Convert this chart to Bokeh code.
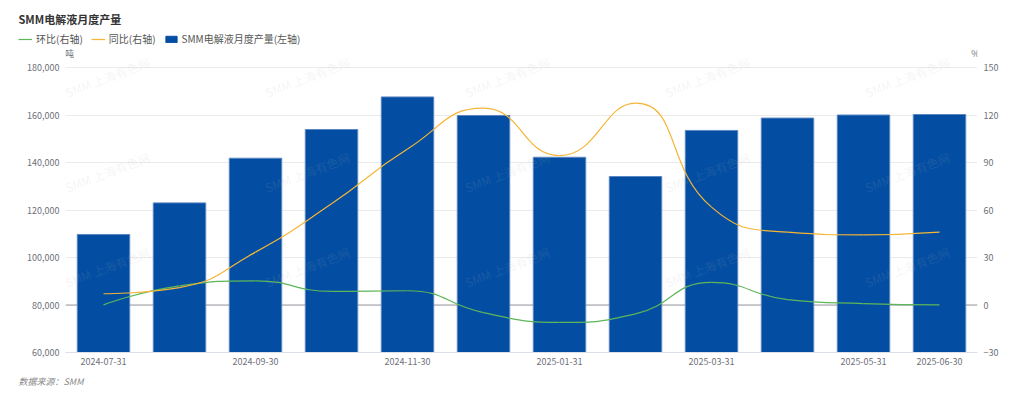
import math
import numpy as np
from bokeh.plotting import figure
from bokeh.layouts import column
from bokeh.models import (Range1d, LinearAxis, FixedTicker, NumeralTickFormatter,
                          Label, Legend, LegendItem, Span, ColumnDataSource, Title)
from bokeh.embed import file_html
from bokeh.resources import INLINE

# ---------------- data ----------------
categories = ["2024-07-31", "2024-08-31", "2024-09-30", "2024-10-31", "2024-11-30",
              "2024-12-31", "2025-01-31", "2025-02-28", "2025-03-31", "2025-04-30",
              "2025-05-31", "2025-06-30"]
production = [109700, 123000, 141800, 153900, 167600, 159800,
              142200, 134100, 153500, 158700, 160000, 160200]   # 吨 (left axis)
mom = [0.1, 12.1, 15.3, 8.6, 9.0, -4.8, -11.0, -5.6, 14.3, 3.4, 0.9, 0.1]          # 环比 %
yoy = [7.1, 11.0, 33.4, 63.9, 98.5, 124.3, 94.4, 127.5, 61.8, 46.0, 44.3, 46.0]    # 同比 %
shown_labels = ["2024-07-31", "2024-09-30", "2024-11-30", "2025-01-31",
                "2025-03-31", "2025-05-31", "2025-06-30"]
left_ticks = [60000, 80000, 100000, 120000, 140000, 160000, 180000]
right_ticks = [-30, 0, 30, 60, 90, 120, 150]
series_names = ["环比(右轴)", "同比(右轴)", "SMM电解液月度产量(左轴)"]

FONT = "Noto Sans CJK SC"
BLUE = "#034EA2"
GREEN = "#5DB65A"
YELLOW = "#F5B537"
TICK_COLOR = "#6E7079"

n = len(categories)
xc = [i + 0.5 for i in range(n)]

W = 1024
HEAD_H = 47
H = 399 - HEAD_H
ML, MR, MT, MB = 65, 47, 0, 47
frame_w = W - ML - MR          # 912
frame_h = H - MT - MB          # 305 (includes unit-label headroom)
grid_h = 285                   # height of the tick area (180,000 / 150 at its top)

# ---------------- header (title + legend) ----------------
hdr = figure(width=W, height=HEAD_H, output_backend="svg", toolbar_location=None,
             x_range=Range1d(0, 1), y_range=Range1d(0, 1), x_axis_type=None,
             y_axis_type=None, min_border=0, tools="")
hdr.outline_line_color = None
hdr.background_fill_color = "white"
hdr.border_fill_color = "white"
if hasattr(hdr, "frame_align"):
    hdr.frame_align = False
hdr.add_layout(Label(x=18, y=HEAD_H - 18, x_units="screen", y_units="screen",
                     text="SMM电解液月度产量", text_font=FONT, text_font_size="11px",
                     text_font_style="bold", text_color="#333333",
                     text_baseline="middle"))
# legend-only renderers (no visible data)
nan = np.array([np.nan])
lg_green = hdr.line(x=nan, y=nan, line_color=GREEN, line_width=1.2)
lg_yellow = hdr.line(x=nan, y=nan, line_color=YELLOW, line_width=1.2)
lg_bar = hdr.vbar(x=nan, top=nan, width=1, fill_color=BLUE, line_color=BLUE)
legend = Legend(items=[LegendItem(label=series_names[0], renderers=[lg_green]),
                       LegendItem(label=series_names[1], renderers=[lg_yellow]),
                       LegendItem(label=series_names[2], renderers=[lg_bar])],
                location=(18, 1), orientation="horizontal",
                padding=0, margin=0, spacing=8, label_standoff=4,
                glyph_width=14, glyph_height=8, label_height=14,
                label_text_font=FONT, label_text_font_size="10px",
                label_text_color="#555555",
                border_line_color=None, background_fill_alpha=0)
hdr.add_layout(legend)

# ---------------- main chart ----------------
l_lo, l_hi = left_ticks[0], left_ticks[-1]
r_lo, r_hi = right_ticks[0], right_ticks[-1]
l_top = l_lo + (l_hi - l_lo) * frame_h / grid_h
r_top = r_lo + (r_hi - r_lo) * frame_h / grid_h

p = figure(width=W, height=H, output_backend="svg", toolbar_location=None,
           x_range=Range1d(0, n), y_range=Range1d(l_lo, l_top),
           min_border_left=ML, min_border_right=MR, min_border_top=MT, min_border_bottom=MB,
           tools="")
p.outline_line_color = None
p.background_fill_color = "white"
p.border_fill_color = "white"
if hasattr(p, "frame_align"):
    p.frame_align = False
p.extra_y_ranges = {"right": Range1d(r_lo, r_top)}

# axes
p.xaxis.ticker = FixedTicker(ticks=[xc[categories.index(c)] for c in shown_labels])
p.xaxis.major_label_overrides = {xc[i]: categories[i] for i in range(n)}
p.xaxis.axis_line_color = "#DADFE8"
p.xaxis.major_tick_line_color = None
p.xaxis.minor_tick_line_color = None
p.xaxis.major_tick_out = 0
p.xaxis.major_tick_in = 0
p.xaxis.major_label_standoff = 5
p.xaxis.major_label_text_font = FONT
p.xaxis.major_label_text_font_size = "9px"
p.xaxis.major_label_text_color = TICK_COLOR

p.yaxis.ticker = FixedTicker(ticks=left_ticks)
p.yaxis.formatter = NumeralTickFormatter(format="0,0")
p.yaxis.axis_line_color = None
p.yaxis.major_tick_line_color = None
p.yaxis.minor_tick_line_color = None
p.yaxis.major_tick_out = 0
p.yaxis.major_tick_in = 0
p.yaxis.major_label_standoff = 6
p.yaxis.major_label_text_font = FONT
p.yaxis.major_label_text_font_size = "9px"
p.yaxis.major_label_text_color = TICK_COLOR

ry = LinearAxis(y_range_name="right", ticker=FixedTicker(ticks=right_ticks))
ry.axis_line_color = None
ry.major_tick_line_color = None
ry.minor_tick_line_color = None
ry.major_tick_out = 0
ry.major_tick_in = 0
ry.major_label_standoff = 6
ry.major_label_text_font = FONT
ry.major_label_text_font_size = "9px"
ry.major_label_text_color = TICK_COLOR
p.add_layout(ry, "right")

p.xgrid.grid_line_color = None
p.ygrid.grid_line_color = "#EBEBEB"

zero = Span(location=0, dimension="width", y_range_name="right",
            line_color="#9A9CA3", line_width=1, level="underlay")
p.add_layout(zero)

# bars
bars = p.vbar(x=xc, top=production, bottom=left_ticks[0], width=0.69,
              fill_color=BLUE, line_color="#5B86C2", line_width=1)

# smooth lines (echarts-style bezier smoothing, computed in pixel space)
kx = frame_w / n
ky = grid_h / (r_hi - r_lo)


def smooth_segments(xs, ys, smooth=0.5):
    pts = [(x * kx, y * ky) for x, y in zip(xs, ys)]
    segs = {k: [] for k in ("x0", "y0", "x1", "y1", "cx0", "cy0", "cx1", "cy1")}
    cpx0, cpy0 = pts[0]
    for i in range(1, len(pts)):
        px, py = pts[i - 1]
        x, y = pts[i]
        if i == len(pts) - 1:
            cpx1, cpy1 = x, y
            ncx, ncy = x, y
        else:
            nx, ny = pts[i + 1]
            vx, vy = nx - px, ny - py
            lp = math.hypot(x - px, y - py)
            ln = math.hypot(nx - x, ny - y)
            ratio = ln / (ln + lp)
            ncx = x + vx * smooth * ratio
            ncy = y + vy * smooth * ratio
            ncx = max(min(ncx, max(nx, x)), min(nx, x))
            ncy = max(min(ncy, max(ny, y)), min(ny, y))
            vx, vy = ncx - x, ncy - y
            cpx1 = x - vx * lp / ln
            cpy1 = y - vy * lp / ln
            cpx1 = max(min(cpx1, max(px, x)), min(px, x))
            cpy1 = max(min(cpy1, max(py, y)), min(py, y))
            vx, vy = x - cpx1, y - cpy1
            ncx = x + vx * ln / lp
            ncy = y + vy * ln / lp
        segs["x0"].append(px / kx); segs["y0"].append(py / ky)
        segs["x1"].append(x / kx); segs["y1"].append(y / ky)
        segs["cx0"].append(cpx0 / kx); segs["cy0"].append(cpy0 / ky)
        segs["cx1"].append(cpx1 / kx); segs["cy1"].append(cpy1 / ky)
        cpx0, cpy0 = ncx, ncy
    return ColumnDataSource(segs)


g_src = smooth_segments(xc, mom)
y_src = smooth_segments(xc, yoy)
p.bezier(x0="x0", y0="y0", x1="x1", y1="y1", cx0="cx0", cy0="cy0",
         cx1="cx1", cy1="cy1", source=g_src, y_range_name="right",
         line_color=GREEN, line_width=1.2)
p.bezier(x0="x0", y0="y0", x1="x1", y1="y1", cx0="cx0", cy0="cy0",
         cx1="cx1", cy1="cy1", source=y_src, y_range_name="right",
         line_color=YELLOW, line_width=1.2)

# faint watermark (as in the source image)
for row_y in (252, 157, 62):
    for col_x in (0, 200, 400, 600, 800):
        p.add_layout(Label(x=col_x + 3, y=row_y, x_units="screen", y_units="screen",
                           text="SMM 上海有色网", text_font=FONT, text_font_size="12px",
                           text_color="#B4B4B4", text_alpha=0.14, angle=0.36))

# footer
footer = Title(text="数据来源：SMM", align="left", offset=-47, text_font=FONT,
               text_font_size="9px", text_font_style="italic", text_color="#8A8A8A",
               standoff=10)
p.add_layout(footer, "below")


def add_label(text, x, y, size, color, align="left"):
    p.add_layout(Label(x=x, y=y, x_units="screen", y_units="screen", text=text,
                       text_font=FONT, text_font_size=size, text_color=color,
                       text_align=align, text_baseline="middle"))


# unit labels (inside the frame headroom)
add_label("吨", 4, frame_h - 6, "9px", TICK_COLOR, align="center")
add_label("%", 910, frame_h - 6, "9px", TICK_COLOR, align="center")

layout = column(hdr, p, spacing=0)
open("out.html", "w").write(file_html(layout, INLINE))
